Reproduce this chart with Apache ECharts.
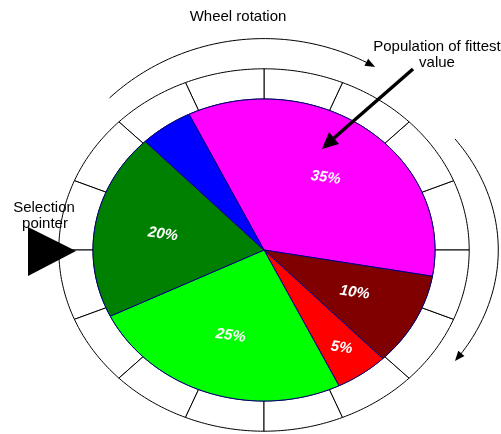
<!DOCTYPE html>
<html>
<head>
<meta charset="utf-8">
<script src="https://cdn.jsdelivr.net/npm/echarts@6/dist/echarts.min.js"></script>
<style>
html, body { margin: 0; padding: 0; background: #fff; }
#main { width: 501px; height: 434px; }
</style>
</head>
<body>
<div id="main"></div>
<script>
// slices clockwise from startAngle
var shares = [35, 10, 5, 25, 20, 5];
var shareLabels = ['35%', '10%', '5%', '25%', '20%', ''];
var sliceColors = ['#ff00ff', '#800000', '#ff0000', '#00ff00', '#008000', '#0000ff'];
var labelRadius = [0.6, 0.6, 0.79, 0.6, 0.6, 0.6];
var startAngle = 116;
var ringSegments = 16;
var ringRadius = 1.2;
// rotation arrows: rx, ry, from angle, to angle
var rotationArcs = [[1.3, 1.4, 134, 60], [1.37, 1.27, 35.4, -35.4]];

var myChart = echarts.init(document.getElementById('main'));
var rad = Math.PI / 180;
var textFont = '15px "Liberation Sans", Arial';

function pt(api, rx, ry, deg) {
    return api.coord([rx * Math.cos(deg * rad), ry * Math.sin(deg * rad)]);
}
function arcPoints(api, rx, ry, a0, a1, n) {
    var out = [];
    for (var j = 0; j <= n; j++) {
        out.push(pt(api, rx, ry, a0 + (a1 - a0) * j / n));
    }
    return out;
}

function renderRing(params, api) {
    var step = 360 / ringSegments;
    var a0 = params.dataIndex * step, a1 = a0 + step;
    var pts = arcPoints(api, ringRadius, ringRadius, a0, a1, 24)
        .concat(arcPoints(api, 1, 1, a1, a0, 24));
    return {
        type: 'polygon',
        shape: { points: pts },
        style: { fill: '#fff', stroke: '#000', lineWidth: 1 }
    };
}

function renderSlice(params, api) {
    var i = params.dataIndex;
    var before = 0;
    for (var k = 0; k < i; k++) before += shares[k];
    var a0 = startAngle - before * 3.6;
    var a1 = a0 - api.value(1) * 3.6;
    var pts = [api.coord([0, 0])].concat(arcPoints(api, 1, 1, a0, a1, 48));
    var lp = pt(api, labelRadius[i], labelRadius[i], (a0 + a1) / 2);
    return {
        type: 'group',
        children: [{
            type: 'polygon',
            shape: { points: pts },
            style: { fill: sliceColors[i], stroke: '#000080', lineWidth: 1 }
        }, {
            type: 'text',
            x: lp[0], y: lp[1],
            rotation: -0.14,
            style: {
                text: shareLabels[i], fill: '#fff',
                font: 'italic bold 15px "Liberation Sans", Arial',
                align: 'center', verticalAlign: 'middle'
            }
        }]
    };
}

function renderArrow(params, api) {
    var a = rotationArcs[params.dataIndex];
    var pts = arcPoints(api, a[0], a[1], a[2], a[3], 60);
    var tip = pts[pts.length - 1], prev = pts[pts.length - 3];
    var dx = tip[0] - prev[0], dy = tip[1] - prev[1];
    var len = Math.sqrt(dx * dx + dy * dy);
    dx /= len; dy /= len;
    var bx = tip[0] - dx * 10, by = tip[1] - dy * 10;
    return {
        type: 'group',
        children: [{
            type: 'polyline',
            shape: { points: pts.slice(0, pts.length - 2) },
            style: { stroke: '#000', lineWidth: 1, fill: null }
        }, {
            type: 'polygon',
            shape: { points: [tip, [bx - dy * 4, by + dx * 4], [bx + dy * 4, by - dx * 4]] },
            style: { fill: '#000' }
        }]
    };
}

var ringData = [];
for (var r = 0; r < ringSegments; r++) ringData.push([0, r]);

var option = {
    animation: false,
    grid: { left: 58.8, right: 31.8, top: 68.8, bottom: 2.8 },
    xAxis: { type: 'value', min: -1.2, max: 1.2, show: false },
    yAxis: { type: 'value', min: -1.2, max: 1.2, show: false },
    series: [{
        type: 'custom',
        renderItem: renderRing,
        clip: false,
        data: ringData
    }, {
        type: 'custom',
        renderItem: renderSlice,
        clip: false,
        data: shares.map(function (v, i) { return [i, v]; })
    }, {
        type: 'custom',
        renderItem: renderArrow,
        clip: false,
        data: rotationArcs.map(function (a, i) { return [i, 0]; })
    }],
    graphic: [
        { type: 'text', z: 100, x: 238, y: 17, style: { text: 'Wheel rotation', fill: '#000', font: textFont, align: 'center', verticalAlign: 'middle' } },
        { type: 'text', z: 100, x: 437, y: 47, style: { text: 'Population of fittest', fill: '#000', font: textFont, align: 'center', verticalAlign: 'middle' } },
        { type: 'text', z: 100, x: 437, y: 63, style: { text: 'value', fill: '#000', font: textFont, align: 'center', verticalAlign: 'middle' } },
        { type: 'text', z: 100, x: 44, y: 208, style: { text: 'Selection', fill: '#000', font: textFont, align: 'center', verticalAlign: 'middle' } },
        { type: 'text', z: 100, x: 45, y: 224, style: { text: 'pointer', fill: '#000', font: textFont, align: 'center', verticalAlign: 'middle' } },
        { type: 'polygon', z: 100, shape: { points: [[28, 227], [28, 276], [76, 251]] }, style: { fill: '#000' } },
        { type: 'polyline', z: 100, shape: { points: [[413, 69], [334, 138]] }, style: { stroke: '#000', lineWidth: 3.5 } },
        { type: 'polygon', z: 100, shape: { points: [[322, 149], [339, 144], [329, 132]] }, style: { fill: '#000' } }
    ]
};
myChart.setOption(option);
</script>
</body>
</html>
